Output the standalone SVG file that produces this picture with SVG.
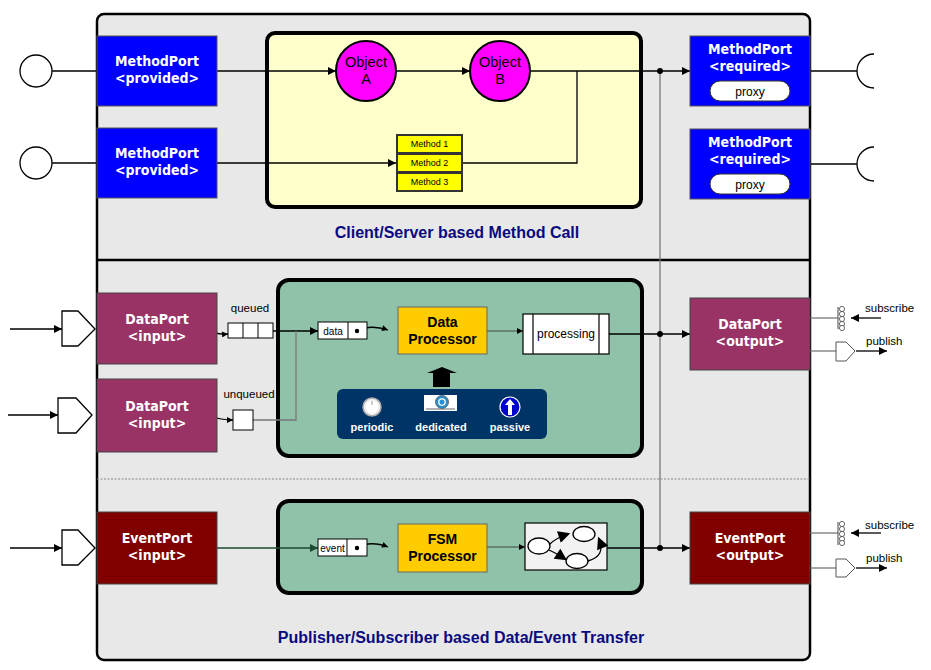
<svg xmlns="http://www.w3.org/2000/svg" width="931" height="670" viewBox="0 0 931 670">
<defs>
<marker id="ah" viewBox="0 0 10 10" refX="10" refY="5" markerWidth="10" markerHeight="8" markerUnits="userSpaceOnUse" orient="auto"><path d="M0,0 L10,5 L0,10 Z" fill="#000"/></marker>
<marker id="ahs" viewBox="0 0 10 10" refX="10" refY="5" markerWidth="7" markerHeight="6" markerUnits="userSpaceOnUse" orient="auto"><path d="M0,0 L10,5 L0,10 Z" fill="#000"/></marker>
<marker id="ahg" viewBox="0 0 10 10" refX="10" refY="5" markerWidth="10" markerHeight="8" markerUnits="userSpaceOnUse" orient="auto"><path d="M0,0 L10,5 L0,10 Z" fill="#1e4a32"/></marker>
<marker id="ahb" viewBox="0 0 10 10" refX="8" refY="5" markerWidth="13" markerHeight="12" markerUnits="userSpaceOnUse" orient="auto"><path d="M0,0 L10,5 L0,10 Z" fill="#000"/></marker>
</defs>
<style>
.port{font-family:"DejaVu Sans Condensed","DejaVu Sans",Verdana,sans-serif;font-stretch:condensed;font-weight:bold;font-size:14px;fill:#fff;text-anchor:middle}
.arial{font-family:"Liberation Sans",Arial,sans-serif}
.ln{stroke:#000;stroke-width:1.3;fill:none}
.gl{stroke:#777;stroke-width:1.3;fill:none}
.title{font-family:"Liberation Sans",Arial,sans-serif;font-weight:bold;font-size:16px;fill:#0a0a80;text-anchor:middle}
.proc{font-family:"Liberation Sans",Arial,sans-serif;font-weight:bold;font-size:14px;fill:#000;text-anchor:middle}
.small{font-family:"Liberation Sans",Arial,sans-serif;font-size:11.5px;fill:#000}
.iface{fill:#fff;stroke:#000;stroke-width:1.3}
.icolbl{font-family:"Liberation Sans",Arial,sans-serif;font-weight:bold;font-size:11px;fill:#fff;text-anchor:middle}
</style>
<rect width="931" height="670" fill="#fff"/>

<g id="component">
<rect x="97" y="14" width="713" height="646" rx="7" fill="#e8e8e8" stroke="#000" stroke-width="2.5"/>
<line x1="97" y1="260" x2="810" y2="260" stroke="#000" stroke-width="2.5"/>
<line x1="97" y1="479" x2="810" y2="479" stroke="#888" stroke-width="1" stroke-dasharray="2,1.5"/>
<text class="title" x="457" y="238">Client/Server based Method Call</text>
<text class="title" x="461" y="643">Publisher/Subscriber based Data/Event Transfer</text>
</g>

<g id="method-container">
<rect x="267" y="33" width="374" height="174" rx="8" fill="#ffffcc" stroke="#000" stroke-width="4"/>
</g>
<g id="green-data">
<rect x="278" y="280" width="364" height="176" rx="11" fill="#8fc2a8" stroke="#000" stroke-width="4"/>
</g>
<g id="green-event">
<rect x="278" y="501" width="364" height="92" rx="11" fill="#8fc2a8" stroke="#000" stroke-width="4"/>
</g>

<g id="connectors">
<line class="ln" x1="52" y1="71" x2="97" y2="71"/>
<line class="ln" x1="52" y1="163" x2="97" y2="163"/>
<line class="ln" x1="217" y1="71" x2="336" y2="71" marker-end="url(#ah)"/>
<line class="ln" x1="396" y1="71" x2="470" y2="71" marker-end="url(#ah)"/>
<line class="ln" x1="530" y1="71" x2="690" y2="71" marker-end="url(#ah)"/>
<line class="ln" x1="217" y1="163" x2="396" y2="163" marker-end="url(#ah)"/>
<polyline class="ln" points="463,163 577,163 577,71"/>
<line class="gl" x1="660" y1="71" x2="660" y2="548"/>
<circle cx="660" cy="71" r="3" fill="#000"/>
<line class="ln" x1="810" y1="71" x2="857" y2="71"/>
<line class="ln" x1="810" y1="164" x2="857" y2="164"/>
<line class="ln" x1="10" y1="329" x2="62" y2="329" marker-end="url(#ah)"/>
<line class="ln" x1="8" y1="415" x2="58" y2="415" marker-end="url(#ah)"/>
<path class="ln" d="M206,328 Q214,335 228,334" marker-end="url(#ahs)"/>
<path class="ln" d="M204,409 Q211,420 233,420" marker-end="url(#ahs)"/>
<line class="ln" x1="273" y1="331" x2="318" y2="331" marker-end="url(#ah)"/>
<polyline class="gl" points="253,420 296,420 296,331"/>
<path class="ln" d="M357,331 Q370,324 388,330" marker-end="url(#ahs)"/>
<line x1="487" y1="331" x2="523" y2="331" stroke="#444" stroke-width="1.2" marker-end="url(#ahs)"/>
<line class="ln" x1="609" y1="334" x2="690" y2="334" marker-end="url(#ah)"/>
<circle cx="660" cy="334" r="3" fill="#000"/>
<line class="gl" x1="810" y1="318" x2="838" y2="318"/>
<line class="gl" x1="810" y1="351" x2="836" y2="351"/>
<line class="ln" x1="10" y1="548" x2="62" y2="548" marker-end="url(#ah)"/>
<line x1="217" y1="548" x2="318" y2="548" stroke="#1e4a32" stroke-width="1.3" marker-end="url(#ahg)"/>
<path class="ln" d="M357,548 Q370,540 388,547" marker-end="url(#ahs)"/>
<line x1="487" y1="547" x2="525" y2="547" stroke="#444" stroke-width="1.2" marker-end="url(#ahs)"/>
<line class="ln" x1="607" y1="548" x2="690" y2="548" marker-end="url(#ah)"/>
<circle cx="660" cy="548" r="3" fill="#000"/>
<line class="gl" x1="810" y1="533" x2="838" y2="533"/>
<line class="gl" x1="810" y1="568" x2="836" y2="568"/>
</g>

<g id="provided-iface-1"><circle class="iface" cx="36" cy="71" r="16"/></g>
<g id="provided-iface-2"><circle class="iface" cx="36" cy="163" r="16"/></g>
<g id="required-iface-1"><path class="ln" d="M874,54 A17,17 0 0 0 874,88"/></g>
<g id="required-iface-2"><path class="ln" d="M874,147 A17,17 0 0 0 874,181"/></g>

<g id="methodport-provided-1">
<rect x="97" y="36" width="120" height="70" fill="#0000ff" stroke="#555" stroke-width="1"/>
<text class="port" x="157" y="66">MethodPort</text>
<text class="port" x="157" y="83">&lt;provided&gt;</text>
</g>
<g id="methodport-provided-2">
<rect x="97" y="128" width="120" height="70" fill="#0000ff" stroke="#555" stroke-width="1"/>
<text class="port" x="157" y="158">MethodPort</text>
<text class="port" x="157" y="175">&lt;provided&gt;</text>
</g>

<g id="object-a">
<circle cx="366" cy="71" r="30" fill="#ff00ff" stroke="#000" stroke-width="2"/>
<text class="arial" x="366" y="67" font-size="14.5" text-anchor="middle">Object</text>
<text class="arial" x="366" y="84" font-size="14.5" text-anchor="middle">A</text>
</g>
<g id="object-b">
<circle cx="500" cy="71" r="30" fill="#ff00ff" stroke="#000" stroke-width="2"/>
<text class="arial" x="500" y="67" font-size="14.5" text-anchor="middle">Object</text>
<text class="arial" x="500" y="84" font-size="14.5" text-anchor="middle">B</text>
</g>

<g id="methods">
<rect x="396" y="134" width="67" height="58" fill="#333"/>
<rect x="398" y="136" width="63" height="16" fill="#ffff00"/>
<rect x="398" y="155" width="63" height="16" fill="#ffff00"/>
<rect x="398" y="174" width="63" height="16" fill="#ffff00"/>
<text class="arial" x="429.5" y="147" font-size="9" text-anchor="middle">Method 1</text>
<text class="arial" x="429.5" y="166" font-size="9" text-anchor="middle">Method 2</text>
<text class="arial" x="429.5" y="185" font-size="9" text-anchor="middle">Method 3</text>
</g>

<g id="methodport-required-1">
<rect x="690" y="36" width="120" height="70" fill="#0000ff" stroke="#555" stroke-width="1"/>
<text class="port" x="750" y="54">MethodPort</text>
<text class="port" x="750" y="71">&lt;required&gt;</text>
<rect x="710" y="81" width="80" height="20" rx="10" fill="#fff" stroke="#333" stroke-width="1"/>
<text class="arial" x="750" y="95.5" font-size="12" text-anchor="middle">proxy</text>
</g>
<g id="methodport-required-2">
<rect x="690" y="129" width="120" height="70" fill="#0000ff" stroke="#555" stroke-width="1"/>
<text class="port" x="750" y="147">MethodPort</text>
<text class="port" x="750" y="164">&lt;required&gt;</text>
<rect x="710" y="174" width="80" height="20" rx="10" fill="#fff" stroke="#333" stroke-width="1"/>
<text class="arial" x="750" y="188.5" font-size="12" text-anchor="middle">proxy</text>
</g>

<g id="data-in-iface-1"><polygon class="iface" points="62,311 78,311 95,329 78,346 62,346" stroke-width="1.2"/></g>
<g id="data-in-iface-2"><polygon class="iface" points="58,398 76,398 92,415 76,433 58,433" stroke-width="1.2"/></g>
<g id="event-in-iface"><polygon class="iface" points="62,530 78,530 95,548 78,565 62,565" stroke-width="1.2"/></g>

<g id="dataport-input-1">
<rect x="97" y="293" width="120" height="71" fill="#993366" stroke="#444" stroke-width="1"/>
<text class="port" x="157" y="324">DataPort</text>
<text class="port" x="157" y="341">&lt;input&gt;</text>
</g>
<g id="dataport-input-2">
<rect x="97" y="379" width="120" height="73" fill="#993366" stroke="#444" stroke-width="1"/>
<text class="port" x="157" y="411">DataPort</text>
<text class="port" x="157" y="428">&lt;input&gt;</text>
</g>

<g id="queued">
<text class="small" x="250" y="312" text-anchor="middle">queued</text>
<rect x="228" y="323" width="45" height="15" fill="#fff" stroke="#000" stroke-width="1"/>
<line x1="243" y1="323" x2="243" y2="338" stroke="#000" stroke-width="1"/>
<line x1="258" y1="323" x2="258" y2="338" stroke="#000" stroke-width="1"/>
</g>
<g id="unqueued">
<text class="small" x="249" y="398" text-anchor="middle">unqueued</text>
<rect x="233" y="410" width="20" height="20" fill="#fff" stroke="#000" stroke-width="1"/>
</g>

<g id="data-buffer">
<rect x="318" y="322" width="49" height="17" fill="#fff" stroke="#000" stroke-width="1"/>
<line x1="348" y1="322" x2="348" y2="339" stroke="#000" stroke-width="1"/>
<text class="arial" x="333" y="334.5" font-size="10" text-anchor="middle">data</text>
<circle cx="357" cy="331" r="2.2" fill="#000"/>
</g>

<g id="data-processor">
<rect x="398" y="307" width="89" height="47" fill="#ffcc00" stroke="#666" stroke-width="1"/>
<text class="proc" x="442.5" y="327">Data</text>
<text class="proc" x="442.5" y="344">Processor</text>
</g>

<g id="processing">
<rect x="523" y="314" width="86" height="40" fill="#fff" stroke="#000" stroke-width="1.2"/>
<line x1="533" y1="314" x2="533" y2="354" stroke="#000" stroke-width="1.2"/>
<line x1="599" y1="314" x2="599" y2="354" stroke="#000" stroke-width="1.2"/>
<text class="arial" x="566" y="338" font-size="12" text-anchor="middle">processing</text>
</g>

<g id="activation-arrow">
<polygon points="433,387 450,387 450,373 457,373 442,367 427,373 433,373" fill="#000"/>
</g>

<g id="activation-panel">
<rect x="337" y="389" width="210" height="50" rx="6" fill="#003366"/>
<circle cx="372" cy="407" r="9" fill="#eee" stroke="#aaa" stroke-width="1.5"/>
<circle cx="372" cy="407" r="6.5" fill="#fff"/>
<line x1="372" y1="401" x2="372" y2="405" stroke="#999" stroke-width="1"/>
<text class="icolbl" x="372" y="431">periodic</text>
<rect x="424" y="395" width="33" height="16" fill="#fff"/>
<circle cx="442" cy="402" r="6.5" fill="#2a8fd0" stroke="#555" stroke-width="0.8"/>
<circle cx="442" cy="402" r="3.2" fill="none" stroke="#fff" stroke-width="1.3"/>
<line x1="426" y1="409" x2="455" y2="409" stroke="#666" stroke-width="1"/>
<text class="icolbl" x="441" y="431">dedicated</text>
<circle cx="510" cy="407" r="10" fill="#0000cc" stroke="#fff" stroke-width="1.2"/>
<polygon points="510,399 515,405 512,405 512,415 508,415 508,405 505,405" fill="#fff"/>
<text class="icolbl" x="510" y="431">passive</text>
</g>

<g id="dataport-output">
<rect x="690" y="298" width="120" height="72" fill="#993366" stroke="#444" stroke-width="1"/>
<text class="port" x="750" y="329">DataPort</text>
<text class="port" x="750" y="346">&lt;output&gt;</text>
</g>

<g id="data-subscribe">
<line x1="838" y1="307" x2="838" y2="329" stroke="#444" stroke-width="1"/>
<circle cx="842" cy="309" r="2.6" fill="#fff" stroke="#444" stroke-width="0.8"/>
<circle cx="842" cy="314" r="2.6" fill="#fff" stroke="#444" stroke-width="0.8"/>
<circle cx="842" cy="319" r="2.6" fill="#fff" stroke="#444" stroke-width="0.8"/>
<circle cx="842" cy="324" r="2.6" fill="#fff" stroke="#444" stroke-width="0.8"/>
<circle cx="842" cy="328" r="2.6" fill="#fff" stroke="#444" stroke-width="0.8"/>
<line class="ln" x1="881" y1="318" x2="851" y2="318" marker-end="url(#ah)"/>
<text class="small" x="865" y="312">subscribe</text>
</g>
<g id="data-publish">
<polygon points="836,342 846,342 855,351 846,361 836,361" fill="#fff" stroke="#555" stroke-width="1"/>
<line class="ln" x1="856" y1="351" x2="887" y2="351" marker-end="url(#ah)"/>
<text class="small" x="866" y="345">publish</text>
</g>

<g id="eventport-input">
<rect x="97" y="512" width="120" height="72" fill="#800000" stroke="#444" stroke-width="1"/>
<text class="port" x="157" y="543">EventPort</text>
<text class="port" x="157" y="560">&lt;input&gt;</text>
</g>

<g id="event-buffer">
<rect x="318" y="539" width="49" height="17" fill="#fff" stroke="#000" stroke-width="1"/>
<line x1="347" y1="539" x2="347" y2="556" stroke="#000" stroke-width="1"/>
<text class="arial" x="332.5" y="551.5" font-size="10" text-anchor="middle">event</text>
<circle cx="357" cy="548" r="2.2" fill="#000"/>
</g>

<g id="fsm-processor">
<rect x="398" y="524" width="89" height="48" fill="#ffcc00" stroke="#666" stroke-width="1"/>
<text class="proc" x="442.5" y="544">FSM</text>
<text class="proc" x="442.5" y="561">Processor</text>
</g>

<g id="state-machine">
<rect x="525" y="523" width="82" height="47" fill="#f2f2f2" stroke="#000" stroke-width="1.2"/>
<ellipse cx="539" cy="546" rx="11" ry="8" fill="#fff" stroke="#000" stroke-width="1.3"/>
<ellipse cx="584" cy="534" rx="11" ry="7.5" fill="#fff" stroke="#000" stroke-width="1.3"/>
<ellipse cx="577" cy="561" rx="11" ry="7.5" fill="#fff" stroke="#000" stroke-width="1.3"/>
<path d="M550,544 Q556,538 568,534" fill="none" stroke="#000" stroke-width="1.3" marker-end="url(#ahb)"/>
<path d="M549,550 Q556,553 565,559" fill="none" stroke="#000" stroke-width="1.3" marker-end="url(#ahb)"/>
<path d="M588,561 Q606,556 599,539" fill="none" stroke="#000" stroke-width="1.3" marker-end="url(#ahb)"/>
</g>

<g id="eventport-output">
<rect x="690" y="512" width="120" height="72" fill="#800000" stroke="#444" stroke-width="1"/>
<text class="port" x="750" y="543">EventPort</text>
<text class="port" x="750" y="560">&lt;output&gt;</text>
</g>

<g id="event-subscribe">
<line x1="838" y1="522" x2="838" y2="545" stroke="#444" stroke-width="1"/>
<circle cx="842" cy="524" r="2.6" fill="#fff" stroke="#444" stroke-width="0.8"/>
<circle cx="842" cy="529" r="2.6" fill="#fff" stroke="#444" stroke-width="0.8"/>
<circle cx="842" cy="534" r="2.6" fill="#fff" stroke="#444" stroke-width="0.8"/>
<circle cx="842" cy="539" r="2.6" fill="#fff" stroke="#444" stroke-width="0.8"/>
<circle cx="842" cy="543" r="2.6" fill="#fff" stroke="#444" stroke-width="0.8"/>
<line class="ln" x1="881" y1="533" x2="851" y2="533" marker-end="url(#ah)"/>
<text class="small" x="865" y="529">subscribe</text>
</g>
<g id="event-publish">
<polygon points="836,559 846,559 855,568 846,577 836,577" fill="#fff" stroke="#555" stroke-width="1"/>
<line class="ln" x1="856" y1="568" x2="887" y2="568" marker-end="url(#ah)"/>
<text class="small" x="866" y="562">publish</text>
</g>
</svg>
